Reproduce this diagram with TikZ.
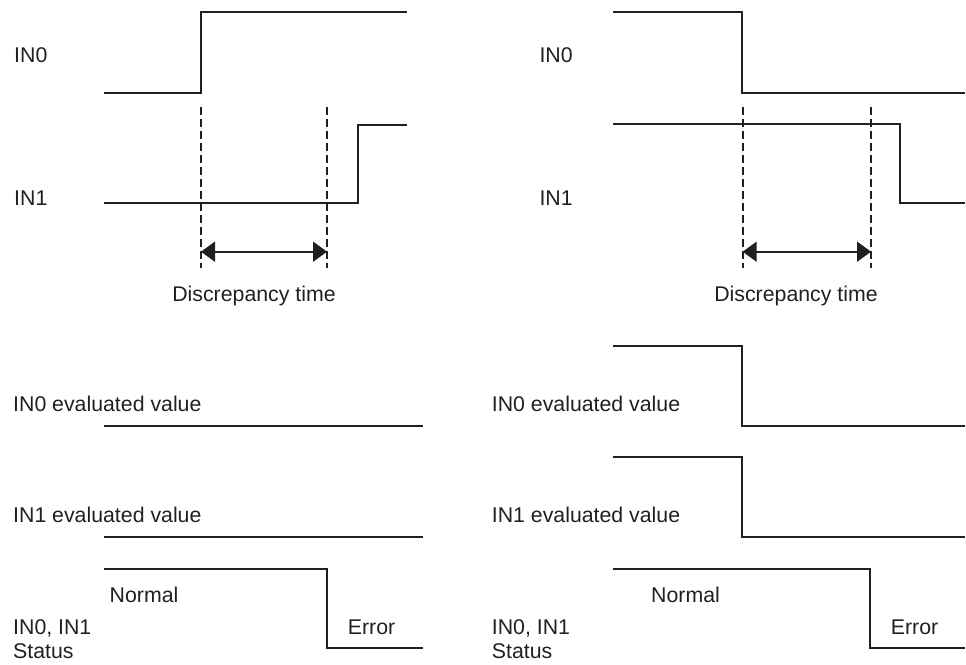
\documentclass[tikz,border=0pt]{standalone}
\usepackage{fontspec}
\setmainfont{Liberation Sans}
\usetikzlibrary{arrows.meta}
\definecolor{ink}{HTML}{231F20}
\begin{document}
\begin{tikzpicture}[x=1pt,y=-1pt,
  sig/.style={draw=ink,line width=1.8pt,line join=miter},
  guide/.style={draw=ink,line width=1.8pt,dash pattern=on 8pt off 4pt},
  span/.style={draw=ink,line width=1.8pt,{Triangle[length=14pt,width=20pt]}-{Triangle[length=14pt,width=20pt]}},
  lbl/.style={anchor=base west,inner sep=0pt,text=ink,font=\fontsize{21.3}{25}\selectfont},
  clbl/.style={anchor=base,inner sep=0pt,text=ink,font=\fontsize{21.3}{25}\selectfont}]
\useasboundingbox (0,0) rectangle (966,664);

% ---------- left panel ----------
\node[lbl] (lin0) at (14,62.3) {IN0};
\node[lbl] (lin1) at (14,205.5) {IN1};
\draw[sig] (104,92.7) -- (201,92.7) -- (201,12.3) -- (407,12.3);
\draw[sig] (104,203.3) -- (358,203.3) -- (358,125) -- (407,125);
\coordinate (ld1t) at (201,107); \coordinate (ld1b) at (201,268);
\coordinate (ld2t) at (327,107); \coordinate (ld2b) at (327,268);
\draw[guide] (ld1t) -- (ld1b);
\draw[guide] (ld2t) -- (ld2b);
\coordinate (la1) at (201,251.7); \coordinate (la2) at (327,251.7);
\draw[span] (la1) -- (la2);
\node[clbl] (ldt) at (254,301.7) {Discrepancy time};

\node[lbl] (lev0) at (13,411) {IN0 evaluated value};
\draw[sig] (104,425.7) -- (423,425.7);
\node[lbl] (lev1) at (13,522.7) {IN1 evaluated value};
\draw[sig] (104,537.3) -- (423,537.3);
\draw[sig] (104,569) -- (326.7,569) -- (326.7,648.3) -- (423,648.3);
\node[lbl] (lnorm) at (109.5,602.7) {Normal};
\node[lbl] (lerr) at (347.7,634) {Error};
\node[lbl] (lst1) at (13,634) {IN0, IN1};
\node[lbl] (lst2) at (13,658) {Status};

% ---------- right panel ----------
\node[lbl] (rin0) at (539.3,62.3) {IN0};
\node[lbl] (rin1) at (539.3,205.5) {IN1};
\draw[sig] (613,12.3) -- (742,12.3) -- (742,92.7) -- (965,92.7);
\draw[sig] (613,124.3) -- (900,124.3) -- (900,203.3) -- (965,203.3);
\coordinate (rd1t) at (742.7,107); \coordinate (rd1b) at (742.7,268);
\coordinate (rd2t) at (871,107); \coordinate (rd2b) at (871,268);
\draw[guide] (rd1t) -- (rd1b);
\draw[guide] (rd2t) -- (rd2b);
\coordinate (ra1) at (742.7,251.7); \coordinate (ra2) at (871,251.7);
\draw[span] (ra1) -- (ra2);
\node[clbl] (rdt) at (796,301.7) {Discrepancy time};

\node[lbl] (rev0) at (491.7,411) {IN0 evaluated value};
\draw[sig] (613.3,345.7) -- (742,345.7) -- (742,425.7) -- (965,425.7);
\node[lbl] (rev1) at (491.7,522.7) {IN1 evaluated value};
\draw[sig] (613.3,457.3) -- (742,457.3) -- (742,537.3) -- (965,537.3);
\draw[sig] (613.3,569) -- (870,569) -- (870,648.3) -- (965,648.3);
\node[lbl] (rnorm) at (651,602.7) {Normal};
\node[lbl] (rerr) at (890.7,634) {Error};
\node[lbl] (rst1) at (491.7,634) {IN0, IN1};
\node[lbl] (rst2) at (491.7,658) {Status};
\end{tikzpicture}
\end{document}
